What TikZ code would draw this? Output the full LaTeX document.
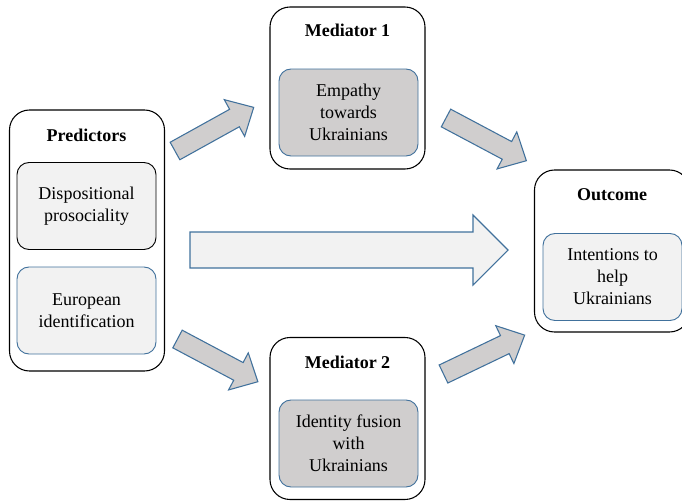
\documentclass[tikz,border=0pt]{standalone}
\usepackage{fontspec}
\setmainfont{Liberation Serif}
\usetikzlibrary{positioning}
\definecolor{boxblue}{HTML}{41719C}
\definecolor{innergray}{HTML}{D0CECE}
\definecolor{innerlight}{HTML}{F2F2F2}
\newcommand{\BlockArrow}[4][innergray]{%
	\draw[arrowline, fill=#1, shift={#2}, rotate=#3] (0,-\shaftW) -- (#4-\headL,-\shaftW) -- (#4-\headL,-\headW) -- (#4,0) -- (#4-\headL,\headW) -- (#4-\headL,\shaftW) -- (0,\shaftW) -- cycle;%
}

\begin{document}
\begin{tikzpicture}[x=0.75pt, y=-0.75pt,
	outerbox/.style={draw, line width=0.8pt, rounded corners=15pt, minimum width=116.25pt, minimum height=#1, inner sep=0pt},
	innerbox/.style={draw=boxblue, line width=0.7pt, rounded corners=9pt, fill=innergray, minimum width=104.25pt, minimum height=65.25pt, align=center, font=\fontsize{13.5}{16.5}\selectfont},
	title/.style={font=\fontsize{13.5}{16.5}\selectfont\bfseries},
	arrowline/.style={draw=boxblue, line width=0.8pt, line join=miter}]
\clip (0,0) rectangle (682,500);

% Draw outer boxes
\node[outerbox=195.75pt] (pred) at (87,240.5) {};
\node[outerbox=121.5pt] (med1) at (347.5,88) {};
\node[outerbox=121.5pt] (med2) at (347.5,418.5) {};
\node[outerbox=121.5pt] (out) at (612,251) {};

% Titles
\node[title] (predT) at (86.5,135) {Predictors};
\node[title] (med1T) at (347.5,30) {Mediator 1};
\node[title] (med2T) at (347.5,362) {Mediator 2};
\node[title] (outT) at (612,195) {Outcome};

% Inner boxes
\node[innerbox, draw=black, fill=innerlight] (proso) at (86.5,206) {Dispositional\\prosociality};
\node[innerbox, fill=innerlight] (euro) at (86.5,310.5) {European\\identification};
\node[innerbox] (empathy) at (348.5,112.5) {Empathy\\towards\\Ukrainians};
\node[innerbox] (fusion) at (348.5,443.5) {Identity fusion\\with\\Ukrainians};
\node[innerbox, fill=innerlight] (help) at (612.5,277) {Intentions to\\help\\Ukrainians};

% Draw block arrows
\def\shaftW{10}
\def\headW{21}
\def\headL{22}
\BlockArrow{(175,151)}{29}{90}
\BlockArrow{(446,118)}{-28}{91}
\BlockArrow{(177.5,339)}{-28}{91}
\BlockArrow{(443.5,374)}{25.6}{90}
\def\shaftW{18}
\def\headW{35}
\def\headL{35}
\BlockArrow[innerlight]{(190,250)}{0}{318}
\end{tikzpicture}
\end{document}
